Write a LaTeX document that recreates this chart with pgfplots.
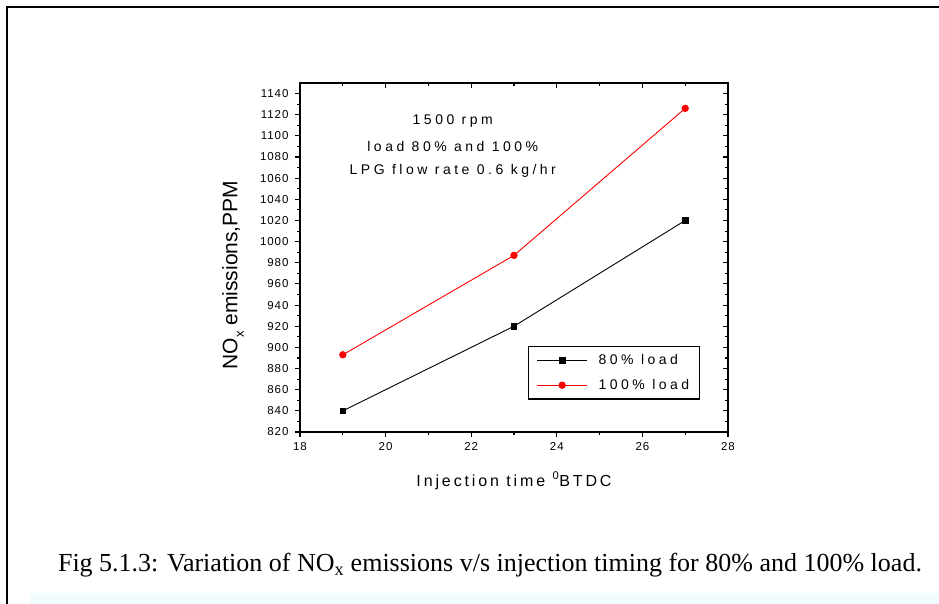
\documentclass[border=0pt]{standalone}
\usepackage{fontspec}
\setmainfont{Liberation Serif}
\newfontfamily\arial{Liberation Sans}
\newfontfamily\arialtick[LetterSpace=8]{Liberation Sans}
\newfontfamily\arialsp[LetterSpace=18]{Liberation Sans}
\newfontfamily\arialwide[LetterSpace=25]{Liberation Sans}
\usepackage{pgfplots}
\pgfplotsset{compat=1.18}

\pgfplotsset{
  frame/.style={
    at={(300pt,172pt)}, anchor=south west,
    width=428pt, height=349pt, scale only axis,
    xmin=18, xmax=28, ymin=820, ymax=1150,
    xtick={18,20,...,28}, ytick={820,840,...,1140},
    minor x tick num=1, minor y tick num=1,
    axis line style={line width=1.3pt},
    major tick length=5pt, minor tick length=3pt,
    tick style={line width=1.1pt, black},
  },
}

\begin{document}
\begin{tikzpicture}
\path[use as bounding box] (0pt,0pt) rectangle (939pt,604pt);
\fill[cyan!5] (30pt,0pt) rectangle (939pt,11pt);
\draw[line width=2pt] (7pt,0pt) -- (7pt,597pt) -- (939pt,597pt);

\begin{axis}[frame,
    tick align=outside, xtick pos=lower, ytick pos=left,
    tick label style={font=\arialtick\fontsize{11.5}{13}\selectfont},
    /pgf/number format/assume math mode=true,
    /pgf/number format/1000 sep={},
    yticklabel style={xshift=-3pt},
    xticklabel style={yshift=-2pt},
    xlabel={Injection time \textsuperscript{0}BTDC},
    ylabel={NO\raisebox{-0.3em}{\fontsize{13}{13}\selectfont x} emissions,PPM},
    every axis x label/.style={at={(axis description cs:0.5,-0.14)}, anchor=center,
      font=\arialsp\fontsize{16}{18}\selectfont},
    every axis y label/.style={at={(axis description cs:-0.1565,0.45)}, anchor=center,
      rotate=90, font=\arial\fontsize{21}{23}\selectfont},
    legend cell align=left,
    legend style={at={(rel axis cs:0.533,0.246)}, anchor=north west,
      draw=black, line width=1.2pt, inner xsep=8pt, inner ysep=6pt,
      row sep=9pt, column sep=9pt, font=\arialwide\fontsize{14}{16}\selectfont},
    legend image code/.code={
      \draw[line width=0.9pt, mark repeat=2, mark phase=2]
        plot coordinates {(0pt,0pt) (25pt,0pt) (50pt,0pt)};},
  ]
\addplot[black, line width=0.9pt, mark=square*, mark size=2.8pt,
  mark options={solid}] coordinates {
  (19,840) (23,920) (27,1020)
};
\addplot[red, line width=0.9pt, mark=*, mark size=3.2pt,
  mark options={solid}] coordinates {
  (19,893) (23,987) (27,1126)
};
\legend{80\% load, 100\% load}
\node[font=\arialwide\fontsize{14}{16}\selectfont] at (axis cs:21.57,1113.6) {1500 rpm};
\node[font=\arialwide\fontsize{14}{16}\selectfont] at (axis cs:21.57,1089.9) {load 80\% and 100\%};
\node[font=\arialwide\fontsize{14}{16}\selectfont] at (axis cs:21.57,1067.2) {LPG flow rate 0.6 kg/hr};
\end{axis}

\begin{axis}[frame,
    tick align=inside, xtick pos=upper, ytick pos=right,
    xticklabels={}, yticklabels={},
  ]
\end{axis}

\node[font=\fontsize{26}{28}\selectfont, anchor=center] at (490pt,39pt)
  {Fig 5.1.3: Variation of NO\textsubscript{x} emissions v/s injection timing for 80\% and 100\% load.};
\end{tikzpicture}
\end{document}
